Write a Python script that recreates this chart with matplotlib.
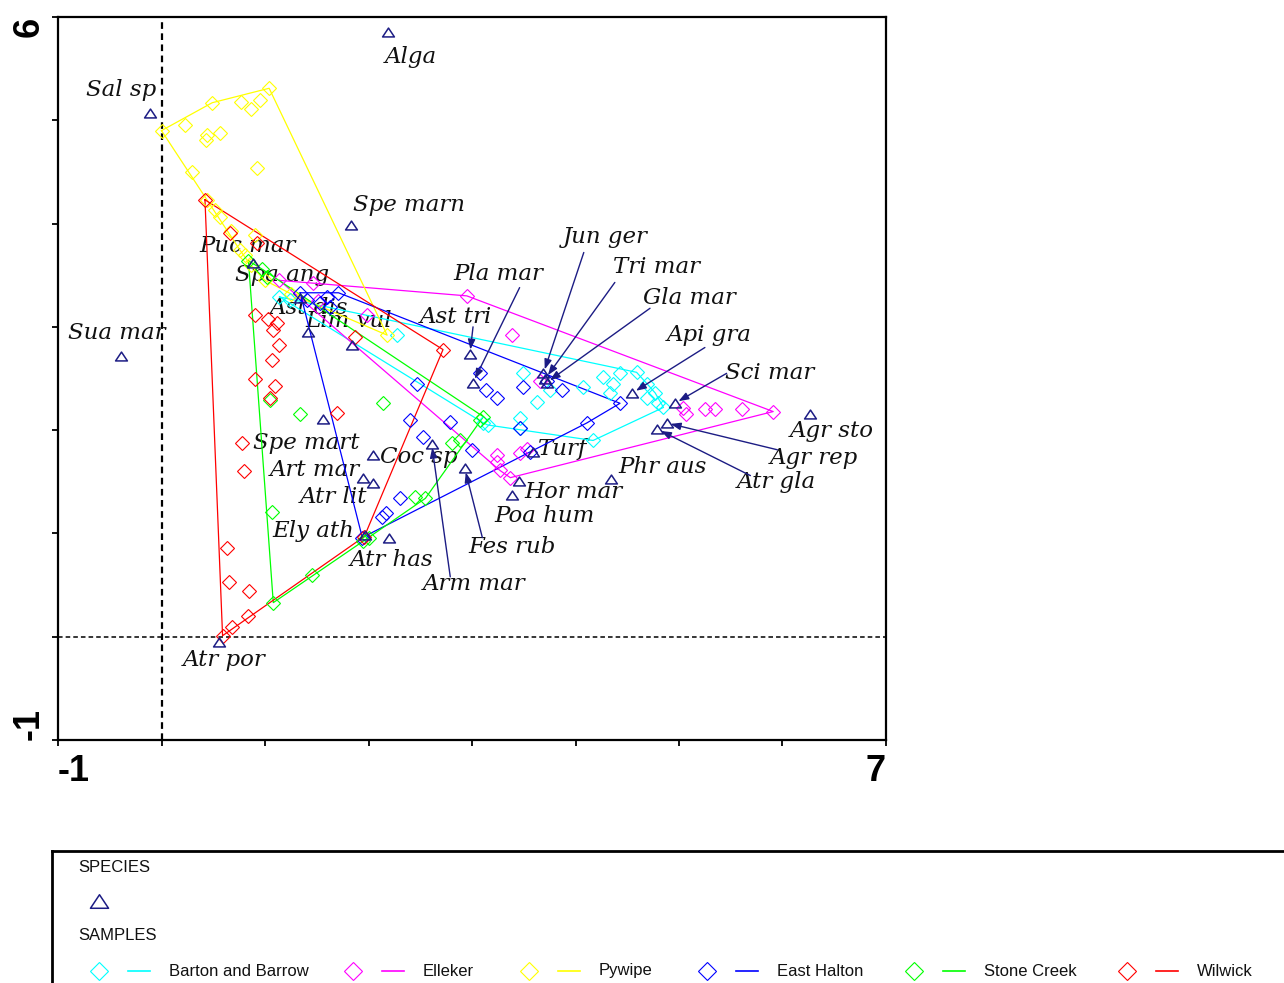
import matplotlib
matplotlib.use("Agg")
import matplotlib.pyplot as plt
from matplotlib.path import Path

W, H = 1284, 983
NAVY = "#1c1c84"

# species scores on ordination axes 1 and 2
species = ["Alga", "Sal sp", "Spe marn", "Sua mar", "Puc mar", "Spa ang", "Ast dis",
           "Lim vul", "Ast tri", "Pla mar", "Jun ger", "Tri mar", "Gla mar", "Api gra",
           "Sci mar", "Agr sto", "Agr rep", "Atr gla", "Phr aus", "Turf", "Hor mar",
           "Poa hum", "Fes rub", "Arm mar", "Coc sp", "Spe mart", "Art mar", "Atr lit",
           "Ely ath", "Atr has", "Atr por"]
species_x = [2.19, -0.11, 1.83, -0.39, 0.88, 1.34, 1.42, 1.84, 2.98, 3.01, 3.69, 3.71,
             3.72, 4.55, 4.96, 6.27, 4.88, 4.79, 4.34, 3.59, 3.45, 3.39, 2.93, 2.61,
             2.04, 1.56, 1.95, 2.04, 1.97, 2.20, 0.56]
species_y = [5.85, 5.07, 3.99, 2.72, 3.62, 3.28, 2.95, 2.82, 2.74, 2.46, 2.55, 2.50,
             2.46, 2.36, 2.26, 2.16, 2.07, 2.01, 1.53, 1.79, 1.51, 1.37, 1.63, 1.87,
             1.76, 2.11, 1.54, 1.49, 0.98, 0.96, -0.05]

# sample scores, one pair of arrays per site
barton_x = [1.14, 1.24, 2.28, 3.49, 3.63, 3.46, 3.46, 3.75, 4.07, 4.27, 4.43, 4.59,
            4.36, 4.33, 4.17, 4.69, 4.77, 4.80, 4.85, 4.69, 3.11, 3.15]
barton_y = [3.29, 3.26, 2.92, 2.55, 2.27, 2.12, 2.02, 2.39, 2.42, 2.51, 2.55, 2.56,
            2.45, 2.36, 1.90, 2.45, 2.36, 2.26, 2.22, 2.31, 2.07, 2.05]

elleker_x = [1.14, 1.46, 1.51, 1.99, 2.95, 3.39, 3.66, 5.04, 5.07, 5.25, 5.35, 5.61,
             5.91, 3.27, 3.24, 3.37, 3.24, 3.53, 3.46]
elleker_y = [3.45, 3.42, 3.25, 3.11, 3.30, 2.92, 2.48, 2.21, 2.16, 2.20, 2.20, 2.20,
             2.18, 1.61, 1.69, 1.54, 1.76, 1.82, 1.78]

pywipe_x = [0.00, 0.23, 0.49, 0.77, 0.86, 0.95, 1.04, 0.44, 0.57, 0.43, 0.29, 0.92,
            0.90, 0.52, 0.57, 0.67, 0.81, 0.86, 1.00, 1.25, 2.18, 0.44, 0.76]
pywipe_y = [4.90, 4.95, 5.17, 5.18, 5.11, 5.20, 5.31, 4.86, 4.88, 4.81, 4.50, 4.54,
            3.89, 4.13, 4.06, 3.93, 3.70, 3.60, 3.45, 3.32, 2.92, 4.23, 3.74]

halton_x = [1.34, 1.71, 1.60, 1.41, 1.53, 1.63, 3.08, 3.14, 3.24, 3.49, 3.72, 3.87,
            4.43, 4.11, 3.46, 2.79, 3.00, 2.40, 2.53, 2.30, 2.13, 2.17, 2.47, 3.56, 1.94]
halton_y = [3.33, 3.33, 3.29, 3.26, 3.23, 3.19, 2.55, 2.39, 2.31, 2.42, 2.48, 2.39,
            2.26, 2.07, 2.02, 2.08, 1.81, 2.10, 1.93, 1.34, 1.16, 1.20, 2.45, 1.79, 0.96]

stone_x = [0.84, 0.97, 1.02, 1.05, 1.34, 2.14, 1.07, 1.08, 1.45, 1.95, 2.00, 2.45,
           2.55, 2.81, 2.88, 3.11, 3.08]
stone_y = [3.64, 3.56, 3.48, 2.29, 2.16, 2.26, 1.21, 0.33, 0.60, 0.93, 0.96, 1.35,
           1.34, 1.88, 1.90, 2.13, 2.10]

wilwick_x = [0.42, 0.66, 0.92, 2.72, 1.96, 0.59, 0.68, 0.84, 0.63, 0.65, 0.85, 0.78,
             0.80, 1.10, 1.05, 1.70, 0.90, 1.03, 1.12, 1.08, 1.14, 1.07, 0.90, 1.87]
wilwick_y = [4.23, 3.91, 3.81, 2.78, 0.97, 0.01, 0.09, 0.20, 0.86, 0.53, 0.44, 1.88,
             1.60, 2.43, 2.31, 2.17, 3.11, 3.08, 3.04, 2.97, 2.82, 2.68, 2.50, 2.90]

sites = ["Barton and Barrow", "Elleker", "Pywipe", "East Halton", "Stone Creek", "Wilwick"]
site_scores = [(barton_x, barton_y), (elleker_x, elleker_y), (pywipe_x, pywipe_y),
               (halton_x, halton_y), (stone_x, stone_y), (wilwick_x, wilwick_y)]
site_colors = ["#00ffff", "#ff00ff", "#ffff00", "#0000ff", "#00ff00", "#ff0000"]

# where each species name sits (left edge, vertical centre)
label_pos = {
    "Alga": (2.16, 5.61), "Sal sp": (-0.73, 5.29), "Spe marn": (1.85, 4.18),
    "Sua mar": (-0.90, 2.94), "Puc mar": (0.37, 3.78), "Spa ang": (0.71, 3.50),
    "Ast dis": (1.05, 3.18), "Lim vul": (1.39, 3.06), "Ast tri": (2.50, 3.10),
    "Pla mar": (2.82, 3.51), "Jun ger": (3.88, 3.87), "Tri mar": (4.36, 3.58),
    "Gla mar": (4.65, 3.28), "Api gra": (4.88, 2.92), "Sci mar": (5.44, 2.55),
    "Agr sto": (6.07, 1.99), "Agr rep": (5.88, 1.73), "Atr gla": (5.56, 1.50),
    "Phr aus": (4.41, 1.64), "Turf": (3.64, 1.82), "Hor mar": (3.51, 1.40),
    "Poa hum": (3.22, 1.17), "Fes rub": (2.96, 0.87), "Arm mar": (2.52, 0.51),
    "Coc sp": (2.11, 1.74), "Spe mart": (0.88, 1.88), "Art mar": (1.05, 1.61),
    "Atr lit": (1.34, 1.35), "Ely ath": (1.07, 1.02), "Atr has": (1.82, 0.74),
    "Atr por": (0.21, -0.23),
}
# labels moved away from crowded symbols get a pointer back to them
leader_from = {
    "Ast tri": (3.01, 3.00), "Pla mar": (3.46, 3.38), "Jun ger": (4.08, 3.72),
    "Tri mar": (4.38, 3.43), "Gla mar": (4.72, 3.18), "Api gra": (5.25, 2.80),
    "Sci mar": (5.46, 2.55), "Agr rep": (5.95, 1.81), "Atr gla": (5.69, 1.56),
    "Fes rub": (3.10, 0.96), "Arm mar": (2.79, 0.58),
}


def convex_hull(xs, ys):
    pts = sorted(set(zip(xs, ys)))

    def cross(o, a, b):
        return (a[0] - o[0]) * (b[1] - o[1]) - (a[1] - o[1]) * (b[0] - o[0])

    lower, upper = [], []
    for p in pts:
        while len(lower) >= 2 and cross(lower[-2], lower[-1], p) <= 0:
            lower.pop()
        lower.append(p)
    for p in reversed(pts):
        while len(upper) >= 2 and cross(upper[-2], upper[-1], p) <= 0:
            upper.pop()
        upper.append(p)
    hull = lower[:-1] + upper[:-1]
    hull.append(hull[0])
    return [p[0] for p in hull], [p[1] for p in hull]


triangle = Path([(-1, -0.75), (1, -0.75), (0, 0.75), (-1, -0.75)],
                [Path.MOVETO, Path.LINETO, Path.LINETO, Path.CLOSEPOLY])

fig = plt.figure(figsize=(W / 100, H / 100), dpi=100)
ax = fig.add_axes([58 / W, 1 - 740 / H, 828 / W, 723 / H])
ax.set_xlim(-1, 7)
ax.set_ylim(-1, 6)

ax.axvline(0, color="black", ls=(0, (3, 2)), lw=1.6, zorder=1)
ax.axhline(0, color="black", ls=(0, (3, 2)), lw=1.1, zorder=1)

for name, sx, sy in zip(species, species_x, species_y):
    lx, ly = label_pos[name]
    ax.text(lx, ly, name, ha="left", va="center", fontsize=16.5,
            family="DejaVu Serif", style="italic", color="#111111", zorder=2)

for (xs, ys), color in zip(site_scores, site_colors):
    hx, hy = convex_hull(xs, ys)
    ax.plot(hx, hy, color=color, lw=0.9, zorder=3)
    ax.plot(xs, ys, ls="none", marker="D", ms=7, mfc="none", mec=color,
            mew=0.8, zorder=3.5)

ax.plot(species_x, species_y, ls="none", marker=triangle, ms=8.5, mfc="none",
        mec=NAVY, mew=1.1, zorder=5)

for name, start in leader_from.items():
    i = species.index(name)
    ax.annotate("", xy=(species_x[i], species_y[i]), xytext=start,
                arrowprops=dict(arrowstyle="-|>,head_length=0.6,head_width=0.22",
                                color=NAVY, lw=1.0, shrinkA=0, shrinkB=3),
                zorder=5)

ax.set_xticks(range(-1, 8))
ax.set_xticklabels(["-1"] + [""] * 7 + ["7"])
ax.set_yticks(range(-1, 7))
ax.set_yticklabels(["-1"] + [""] * 6 + ["6"], rotation=90)
ax.tick_params(direction="out", length=4, width=1.3, labelsize=26)
ax.tick_params(axis="x", pad=6)
ax.tick_params(axis="y", pad=4)
for lab in ax.get_xticklabels() + ax.get_yticklabels():
    lab.set_family("Liberation Sans")
    lab.set_weight("bold")
xl = ax.get_xticklabels()
xl[0].set_ha("left")
xl[-1].set_ha("right")
yl = ax.get_yticklabels()
yl[0].set_va("bottom")
yl[-1].set_va("top")
for side in ax.spines.values():
    side.set_linewidth(1.6)

# legend panel below the plot, laid out in pixel units
lax = fig.add_axes([52 / W, 0, 1 - 52 / W, (H - 851) / H])
lax.set_xlim(52, W)
lax.set_ylim(H, 851)
lax.set_xticks([])
lax.set_yticks([])
lax.spines["right"].set_visible(False)
lax.spines["bottom"].set_visible(False)
lax.spines["left"].set_linewidth(2)
lax.spines["top"].set_linewidth(2)

text_kw = dict(ha="left", va="center", fontsize=12, family="Liberation Sans",
               color="#111111")
lax.text(78, 868, "SPECIES", **text_kw)
lax.plot(99, 901, ls="none", marker=triangle, ms=13, mfc="none", mec=NAVY, mew=1.1)
lax.text(78, 936, "SAMPLES", **text_kw)

entry_x = [99, 353, 529, 707, 914, 1127]
row_y = 971
for name, color, cx in zip(sites, site_colors, entry_x):
    lax.plot(cx, row_y, ls="none", marker="D", ms=9, mfc="none", mec=color, mew=0.8)
    lax.plot([cx + 29, cx + 51], [row_y, row_y], color=color, lw=1.2)
    lax.text(cx + 70, row_y, name, **text_kw)

fig.savefig("out.png", dpi=100)
